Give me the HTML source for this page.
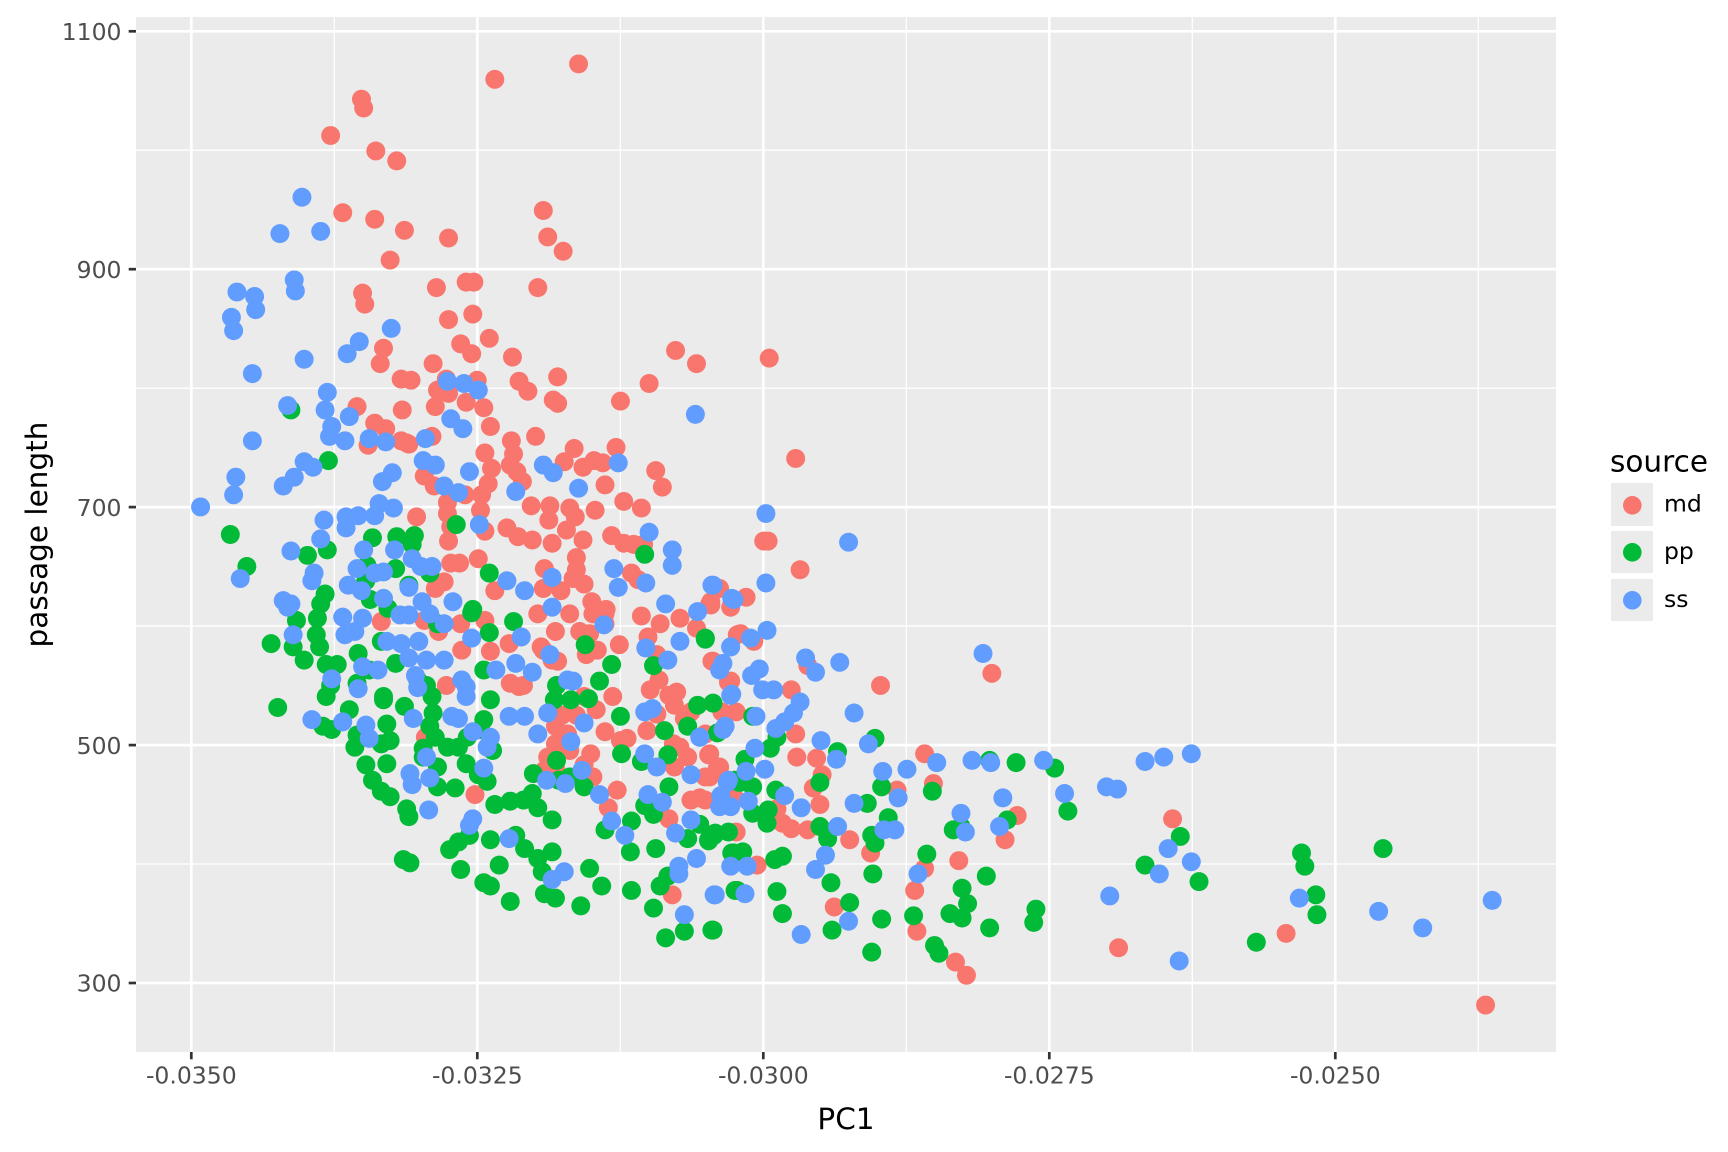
<!DOCTYPE html>
<html><head><meta charset="utf-8"><style>
html,body{margin:0;padding:0;background:#fff;}
svg{display:block;}
text{font-family:"DejaVu Sans","Liberation Sans",sans-serif;}
</style></head><body>
<svg width="1728" height="1152" viewBox="0 0 1728 1152" xmlns="http://www.w3.org/2000/svg">
<rect width="1728" height="1152" fill="#fff"/>
<defs><clipPath id="cp"><rect x="136" y="17" width="1420" height="1035"/></clipPath></defs>
<rect x="136" y="17" width="1420" height="1035" fill="#EBEBEB"/>
<g stroke="#fff" stroke-width="1.35">
<line x1="136" x2="1556" y1="864" y2="864"/><line x1="136" x2="1556" y1="626.1" y2="626.1"/><line x1="136" x2="1556" y1="388.2" y2="388.2"/><line x1="136" x2="1556" y1="150.2" y2="150.2"/>
<line y1="17" y2="1052" x1="334.3" x2="334.3"/><line y1="17" y2="1052" x1="620.3" x2="620.3"/><line y1="17" y2="1052" x1="906.3" x2="906.3"/><line y1="17" y2="1052" x1="1192.3" x2="1192.3"/><line y1="17" y2="1052" x1="1478.3" x2="1478.3"/>
</g>
<g stroke="#fff" stroke-width="2.7">
<line x1="136" x2="1556" y1="983" y2="983"/><line x1="136" x2="1556" y1="745.1" y2="745.1"/><line x1="136" x2="1556" y1="507.1" y2="507.1"/><line x1="136" x2="1556" y1="269.2" y2="269.2"/><line x1="136" x2="1556" y1="31.3" y2="31.3"/>
<line y1="17" y2="1052" x1="191.3" x2="191.3"/><line y1="17" y2="1052" x1="477.3" x2="477.3"/><line y1="17" y2="1052" x1="763.3" x2="763.3"/><line y1="17" y2="1052" x1="1049.3" x2="1049.3"/><line y1="17" y2="1052" x1="1335.3" x2="1335.3"/>
</g>
<g clip-path="url(#cp)"><g transform="scale(1.10204)">
<g fill="#F8766D">
<circle cx="525" cy="58" r="8.6"/><circle cx="449" cy="72" r="8.6"/><circle cx="328" cy="90" r="8.6"/><circle cx="330" cy="98" r="8.6"/><circle cx="300" cy="123" r="8.6"/><circle cx="341" cy="137" r="8.6"/><circle cx="360" cy="146" r="8.6"/><circle cx="311" cy="193" r="8.6"/><circle cx="340" cy="199" r="8.6"/><circle cx="493" cy="191" r="8.6"/><circle cx="698" cy="325" r="8.6"/><circle cx="722" cy="416" r="8.6"/><circle cx="693" cy="491" r="8.6"/><circle cx="697" cy="491" r="8.6"/><circle cx="867" cy="873" r="8.6"/><circle cx="877" cy="885" r="8.6"/><circle cx="1015" cy="860" r="8.6"/><circle cx="1167" cy="847" r="8.6"/><circle cx="1348" cy="912" r="8.6"/>
<circle cx="367" cy="209" r="8.6"/><circle cx="407" cy="216" r="8.6"/><circle cx="497" cy="215" r="8.6"/><circle cx="511" cy="228" r="8.6"/><circle cx="354" cy="236" r="8.6"/><circle cx="396" cy="261" r="8.6"/><circle cx="423" cy="256" r="8.6"/><circle cx="430" cy="256" r="8.6"/><circle cx="488" cy="261" r="8.6"/><circle cx="329" cy="266" r="8.6"/><circle cx="331" cy="276" r="8.6"/><circle cx="407" cy="290" r="8.6"/><circle cx="429" cy="285" r="8.6"/><circle cx="444" cy="307" r="8.6"/><circle cx="418" cy="312" r="8.6"/><circle cx="428" cy="321" r="8.6"/><circle cx="465" cy="324" r="8.6"/><circle cx="506" cy="342" r="8.6"/><circle cx="613" cy="318" r="8.6"/><circle cx="632" cy="330" r="8.6"/><circle cx="589" cy="348" r="8.6"/><circle cx="563" cy="364" r="8.6"/><circle cx="348" cy="316" r="8.6"/><circle cx="345" cy="330" r="8.6"/><circle cx="393" cy="330" r="8.6"/><circle cx="364" cy="344" r="8.6"/><circle cx="373" cy="345" r="8.6"/><circle cx="405" cy="344" r="8.6"/><circle cx="433" cy="345" r="8.6"/><circle cx="397" cy="354" r="8.6"/><circle cx="407" cy="357" r="8.6"/><circle cx="471" cy="346" r="8.6"/><circle cx="479" cy="355" r="8.6"/><circle cx="502" cy="363" r="8.6"/><circle cx="506" cy="366" r="8.6"/><circle cx="395" cy="369" r="8.6"/><circle cx="423" cy="365" r="8.6"/><circle cx="439" cy="370" r="8.6"/><circle cx="365" cy="372" r="8.6"/><circle cx="324" cy="369" r="8.6"/><circle cx="340" cy="384" r="8.6"/><circle cx="350" cy="389" r="8.6"/><circle cx="445" cy="387" r="8.6"/><circle cx="464" cy="400" r="8.6"/><circle cx="364" cy="400" r="8.6"/><circle cx="371" cy="403" r="8.6"/><circle cx="392" cy="396" r="8.6"/><circle cx="486" cy="396" r="8.6"/><circle cx="334" cy="404" r="8.6"/><circle cx="559" cy="406" r="8.6"/><circle cx="521" cy="407" r="8.6"/><circle cx="440" cy="411" r="8.6"/><circle cx="466" cy="412" r="8.6"/><circle cx="595" cy="427" r="8.6"/><circle cx="601" cy="442" r="8.6"/><circle cx="549" cy="440" r="8.6"/><circle cx="566" cy="455" r="8.6"/><circle cx="582" cy="461" r="8.6"/><circle cx="539" cy="418" r="8.6"/><circle cx="547" cy="420" r="8.6"/><circle cx="529" cy="424" r="8.6"/><circle cx="512" cy="419" r="8.6"/><circle cx="385" cy="432" r="8.6"/><circle cx="394" cy="441" r="8.6"/><circle cx="443" cy="439" r="8.6"/><circle cx="463" cy="422" r="8.6"/><circle cx="469" cy="428" r="8.6"/><circle cx="474" cy="437" r="8.6"/><circle cx="446" cy="425" r="8.6"/><circle cx="437" cy="449" r="8.6"/><circle cx="422" cy="449" r="8.6"/><circle cx="406" cy="456" r="8.6"/><circle cx="406" cy="466" r="8.6"/><circle cx="409" cy="478" r="8.6"/><circle cx="407" cy="491" r="8.6"/><circle cx="436" cy="463" r="8.6"/><circle cx="440" cy="482" r="8.6"/><circle cx="460" cy="479" r="8.6"/><circle cx="482" cy="459" r="8.6"/><circle cx="499" cy="459" r="8.6"/><circle cx="517" cy="461" r="8.6"/><circle cx="522" cy="469" r="8.6"/><circle cx="540" cy="463" r="8.6"/><circle cx="498" cy="472" r="8.6"/><circle cx="470" cy="487" r="8.6"/><circle cx="483" cy="490" r="8.6"/><circle cx="494" cy="516" r="8.6"/><circle cx="501" cy="493" r="8.6"/><circle cx="514" cy="481" r="8.6"/><circle cx="523" cy="517" r="8.6"/><circle cx="529" cy="490" r="8.6"/><circle cx="523" cy="506" r="8.6"/><circle cx="509" cy="536" r="8.6"/><circle cx="520" cy="525" r="8.6"/><circle cx="530" cy="530" r="8.6"/><circle cx="555" cy="486" r="8.6"/><circle cx="566" cy="493" r="8.6"/><circle cx="575" cy="494" r="8.6"/><circle cx="584" cy="494" r="8.6"/><circle cx="573" cy="520" r="8.6"/><circle cx="579" cy="526" r="8.6"/><circle cx="537" cy="546" r="8.6"/><circle cx="550" cy="553" r="8.6"/><circle cx="653" cy="534" r="8.6"/><circle cx="645" cy="546" r="8.6"/><circle cx="378" cy="469" r="8.6"/><circle cx="369" cy="402" r="8.6"/><circle cx="395" cy="534" r="8.6"/><circle cx="403" cy="528" r="8.6"/><circle cx="417" cy="511" r="8.6"/><circle cx="409" cy="511" r="8.6"/><circle cx="434" cy="507" r="8.6"/><circle cx="449" cy="536" r="8.6"/><circle cx="493" cy="534" r="8.6"/>
<circle cx="346" cy="564" r="8.6"/><circle cx="405" cy="622" r="8.6"/><circle cx="386" cy="669" r="8.6"/><circle cx="431" cy="721" r="8.6"/><circle cx="385" cy="563" r="8.6"/><circle cx="418" cy="566" r="8.6"/><circle cx="440" cy="563" r="8.6"/><circle cx="419" cy="590" r="8.6"/><circle cx="445" cy="591" r="8.6"/><circle cx="398" cy="573" r="8.6"/><circle cx="462" cy="584" r="8.6"/><circle cx="463" cy="620" r="8.6"/><circle cx="471" cy="623" r="8.6"/><circle cx="491" cy="587" r="8.6"/><circle cx="501" cy="599" r="8.6"/><circle cx="488" cy="557" r="8.6"/><circle cx="504" cy="573" r="8.6"/><circle cx="517" cy="557" r="8.6"/><circle cx="538" cy="557" r="8.6"/><circle cx="549" cy="557" r="8.6"/><circle cx="549" cy="566" r="8.6"/><circle cx="526" cy="573" r="8.6"/><circle cx="542" cy="590" r="8.6"/><circle cx="532" cy="594" r="8.6"/><circle cx="506" cy="600" r="8.6"/><circle cx="493" cy="590" r="8.6"/><circle cx="562" cy="585" r="8.6"/><circle cx="582" cy="559" r="8.6"/><circle cx="599" cy="566" r="8.6"/><circle cx="617" cy="561" r="8.6"/><circle cx="632" cy="570" r="8.6"/><circle cx="645" cy="549" r="8.6"/><circle cx="646" cy="600" r="8.6"/><circle cx="588" cy="578" r="8.6"/><circle cx="596" cy="594" r="8.6"/><circle cx="598" cy="617" r="8.6"/><circle cx="607" cy="631" r="8.6"/><circle cx="614" cy="628" r="8.6"/><circle cx="590" cy="626" r="8.6"/><circle cx="556" cy="632" r="8.6"/><circle cx="549" cy="664" r="8.6"/><circle cx="541" cy="644" r="8.6"/><circle cx="530" cy="632" r="8.6"/><circle cx="523" cy="649" r="8.6"/><circle cx="510" cy="649" r="8.6"/><circle cx="504" cy="659" r="8.6"/><circle cx="515" cy="666" r="8.6"/><circle cx="536" cy="684" r="8.6"/><circle cx="530" cy="694" r="8.6"/><circle cx="538" cy="705" r="8.6"/><circle cx="504" cy="696" r="8.6"/><circle cx="497" cy="687" r="8.6"/><circle cx="494" cy="699" r="8.6"/><circle cx="560" cy="717" r="8.6"/><circle cx="552" cy="733" r="8.6"/><circle cx="563" cy="672" r="8.6"/><circle cx="587" cy="663" r="8.6"/><circle cx="611" cy="675" r="8.6"/><circle cx="617" cy="678" r="8.6"/><circle cx="612" cy="696" r="8.6"/><circle cx="624" cy="687" r="8.6"/><circle cx="644" cy="684" r="8.6"/><circle cx="653" cy="696" r="8.6"/><circle cx="644" cy="705" r="8.6"/><circle cx="627" cy="726" r="8.6"/><circle cx="640" cy="726" r="8.6"/><circle cx="666" cy="726" r="8.6"/><circle cx="663" cy="618" r="8.6"/><circle cx="669" cy="576" r="8.6"/><circle cx="663" cy="551" r="8.6"/><circle cx="607" cy="743" r="8.6"/><circle cx="610" cy="812" r="8.6"/><circle cx="612" cy="640" r="8.6"/><circle cx="627" cy="646" r="8.6"/><circle cx="596" cy="648" r="8.6"/><circle cx="621" cy="652" r="8.6"/><circle cx="640" cy="666" r="8.6"/><circle cx="569" cy="670" r="8.6"/><circle cx="504" cy="675" r="8.6"/><circle cx="517" cy="681" r="8.6"/><circle cx="475" cy="622" r="8.6"/><circle cx="535" cy="575" r="8.6"/>
<circle cx="726" cy="517" r="8.6"/><circle cx="651" cy="534" r="8.6"/><circle cx="644" cy="548" r="8.6"/><circle cx="677" cy="542" r="8.6"/><circle cx="672" cy="575" r="8.6"/><circle cx="684" cy="582" r="8.6"/><circle cx="647" cy="600" r="8.6"/><circle cx="733" cy="604" r="8.6"/><circle cx="661" cy="619" r="8.6"/><circle cx="718" cy="626" r="8.6"/><circle cx="655" cy="646" r="8.6"/><circle cx="668" cy="646" r="8.6"/><circle cx="722" cy="666" r="8.6"/><circle cx="799" cy="622" r="8.6"/><circle cx="900" cy="611" r="8.6"/><circle cx="839" cy="684" r="8.6"/><circle cx="723" cy="687" r="8.6"/><circle cx="741" cy="688" r="8.6"/><circle cx="643" cy="685" r="8.6"/><circle cx="746" cy="703" r="8.6"/><circle cx="738" cy="715" r="8.6"/><circle cx="744" cy="730" r="8.6"/><circle cx="651" cy="697" r="8.6"/><circle cx="640" cy="705" r="8.6"/><circle cx="635" cy="724" r="8.6"/><circle cx="653" cy="724" r="8.6"/><circle cx="666" cy="723" r="8.6"/><circle cx="847" cy="711" r="8.6"/><circle cx="814" cy="717" r="8.6"/><circle cx="705" cy="734" r="8.6"/><circle cx="710" cy="747" r="8.6"/><circle cx="718" cy="752" r="8.6"/><circle cx="733" cy="753" r="8.6"/><circle cx="668" cy="755" r="8.6"/><circle cx="687" cy="785" r="8.6"/><circle cx="771" cy="762" r="8.6"/><circle cx="790" cy="774" r="8.6"/><circle cx="839" cy="788" r="8.6"/><circle cx="830" cy="808" r="8.6"/><circle cx="870" cy="781" r="8.6"/><circle cx="923" cy="740" r="8.6"/><circle cx="912" cy="762" r="8.6"/><circle cx="1064" cy="743" r="8.6"/><circle cx="757" cy="823" r="8.6"/><circle cx="832" cy="845" r="8.6"/>
</g>
<g fill="#00BA38">
<circle cx="791" cy="864" r="8.6"/><circle cx="848" cy="858" r="8.6"/><circle cx="852" cy="865" r="8.6"/><circle cx="1181" cy="774" r="8.6"/><circle cx="1184" cy="786" r="8.6"/><circle cx="1194" cy="812" r="8.6"/><circle cx="1195" cy="830" r="8.6"/><circle cx="1255" cy="770" r="8.6"/><circle cx="1140" cy="855" r="8.6"/><circle cx="1039" cy="785" r="8.6"/><circle cx="1071" cy="759" r="8.6"/><circle cx="1088" cy="800" r="8.6"/>
<circle cx="264" cy="372" r="8.6"/><circle cx="298" cy="418" r="8.6"/><circle cx="209" cy="485" r="8.6"/><circle cx="224" cy="514" r="8.6"/><circle cx="279" cy="504" r="8.6"/><circle cx="297" cy="499" r="8.6"/><circle cx="295" cy="539" r="8.6"/><circle cx="291" cy="548" r="8.6"/><circle cx="338" cy="488" r="8.6"/><circle cx="360" cy="487" r="8.6"/><circle cx="376" cy="486" r="8.6"/><circle cx="374" cy="494" r="8.6"/><circle cx="414" cy="476" r="8.6"/><circle cx="333" cy="513" r="8.6"/><circle cx="359" cy="516" r="8.6"/><circle cx="332" cy="527" r="8.6"/><circle cx="371" cy="531" r="8.6"/><circle cx="390" cy="520" r="8.6"/><circle cx="429" cy="553" r="8.6"/><circle cx="444" cy="520" r="8.6"/><circle cx="585" cy="503" r="8.6"/><circle cx="336" cy="544" r="8.6"/><circle cx="352" cy="552" r="8.6"/>
<circle cx="246" cy="584" r="8.6"/><circle cx="252" cy="642" r="8.6"/><circle cx="266" cy="587" r="8.6"/><circle cx="276" cy="599" r="8.6"/><circle cx="269" cy="563" r="8.6"/><circle cx="288" cy="561" r="8.6"/><circle cx="287" cy="576" r="8.6"/><circle cx="290" cy="587" r="8.6"/><circle cx="296" cy="603" r="8.6"/><circle cx="306" cy="603" r="8.6"/><circle cx="300" cy="622" r="8.6"/><circle cx="296" cy="632" r="8.6"/><circle cx="293" cy="659" r="8.6"/><circle cx="301" cy="662" r="8.6"/><circle cx="317" cy="644" r="8.6"/><circle cx="324" cy="620" r="8.6"/><circle cx="325" cy="593" r="8.6"/><circle cx="335" cy="608" r="8.6"/><circle cx="324" cy="667" r="8.6"/><circle cx="322" cy="678" r="8.6"/><circle cx="332" cy="694" r="8.6"/><circle cx="338" cy="708" r="8.6"/><circle cx="346" cy="718" r="8.6"/><circle cx="354" cy="723" r="8.6"/><circle cx="369" cy="734" r="8.6"/><circle cx="371" cy="741" r="8.6"/><circle cx="366" cy="780" r="8.6"/><circle cx="372" cy="783" r="8.6"/><circle cx="351" cy="693" r="8.6"/><circle cx="346" cy="675" r="8.6"/><circle cx="354" cy="672" r="8.6"/><circle cx="351" cy="657" r="8.6"/><circle cx="348" cy="635" r="8.6"/><circle cx="348" cy="632" r="8.6"/><circle cx="346" cy="582" r="8.6"/><circle cx="359" cy="602" r="8.6"/><circle cx="367" cy="641" r="8.6"/><circle cx="379" cy="617" r="8.6"/><circle cx="387" cy="622" r="8.6"/><circle cx="392" cy="632" r="8.6"/><circle cx="393" cy="647" r="8.6"/><circle cx="390" cy="659" r="8.6"/><circle cx="395" cy="669" r="8.6"/><circle cx="384" cy="679" r="8.6"/><circle cx="384" cy="687" r="8.6"/><circle cx="397" cy="696" r="8.6"/><circle cx="406" cy="678" r="8.6"/><circle cx="416" cy="678" r="8.6"/><circle cx="423" cy="693" r="8.6"/><circle cx="424" cy="669" r="8.6"/><circle cx="436" cy="662" r="8.6"/><circle cx="397" cy="714" r="8.6"/><circle cx="413" cy="715" r="8.6"/><circle cx="434" cy="703" r="8.6"/><circle cx="442" cy="709" r="8.6"/><circle cx="439" cy="653" r="8.6"/><circle cx="447" cy="681" r="8.6"/><circle cx="445" cy="635" r="8.6"/><circle cx="439" cy="608" r="8.6"/><circle cx="444" cy="574" r="8.6"/><circle cx="428" cy="556" r="8.6"/><circle cx="397" cy="566" r="8.6"/><circle cx="466" cy="564" r="8.6"/><circle cx="449" cy="730" r="8.6"/><circle cx="463" cy="727" r="8.6"/><circle cx="475" cy="726" r="8.6"/><circle cx="483" cy="720" r="8.6"/><circle cx="488" cy="733" r="8.6"/><circle cx="501" cy="744" r="8.6"/><circle cx="484" cy="702" r="8.6"/><circle cx="505" cy="690" r="8.6"/><circle cx="517" cy="705" r="8.6"/><circle cx="530" cy="714" r="8.6"/><circle cx="426" cy="758" r="8.6"/><circle cx="416" cy="764" r="8.6"/><circle cx="408" cy="771" r="8.6"/><circle cx="445" cy="762" r="8.6"/><circle cx="468" cy="758" r="8.6"/><circle cx="476" cy="770" r="8.6"/><circle cx="488" cy="779" r="8.6"/><circle cx="501" cy="773" r="8.6"/><circle cx="492" cy="791" r="8.6"/><circle cx="494" cy="811" r="8.6"/><circle cx="504" cy="815" r="8.6"/><circle cx="453" cy="785" r="8.6"/><circle cx="439" cy="801" r="8.6"/><circle cx="445" cy="804" r="8.6"/><circle cx="463" cy="818" r="8.6"/><circle cx="418" cy="789" r="8.6"/><circle cx="535" cy="788" r="8.6"/><circle cx="546" cy="804" r="8.6"/><circle cx="527" cy="822" r="8.6"/><circle cx="573" cy="808" r="8.6"/><circle cx="593" cy="824" r="8.6"/><circle cx="599" cy="804" r="8.6"/><circle cx="606" cy="795" r="8.6"/><circle cx="604" cy="851" r="8.6"/><circle cx="621" cy="845" r="8.6"/><circle cx="646" cy="844" r="8.6"/><circle cx="667" cy="808" r="8.6"/><circle cx="572" cy="773" r="8.6"/><circle cx="595" cy="770" r="8.6"/><circle cx="624" cy="761" r="8.6"/><circle cx="643" cy="762" r="8.6"/><circle cx="549" cy="753" r="8.6"/><circle cx="573" cy="745" r="8.6"/><circle cx="593" cy="739" r="8.6"/><circle cx="585" cy="731" r="8.6"/><circle cx="607" cy="714" r="8.6"/><circle cx="606" cy="685" r="8.6"/><circle cx="582" cy="691" r="8.6"/><circle cx="564" cy="684" r="8.6"/><circle cx="603" cy="663" r="8.6"/><circle cx="624" cy="659" r="8.6"/><circle cx="633" cy="640" r="8.6"/><circle cx="640" cy="579" r="8.6"/><circle cx="563" cy="650" r="8.6"/><circle cx="555" cy="603" r="8.6"/><circle cx="544" cy="618" r="8.6"/><circle cx="531" cy="585" r="8.6"/><circle cx="593" cy="604" r="8.6"/><circle cx="505" cy="622" r="8.6"/><circle cx="503" cy="635" r="8.6"/><circle cx="518" cy="635" r="8.6"/><circle cx="507" cy="708" r="8.6"/><circle cx="534" cy="634" r="8.6"/><circle cx="664" cy="774" r="8.6"/><circle cx="649" cy="756" r="8.6"/>
<circle cx="640" cy="580" r="8.6"/><circle cx="647" cy="638" r="8.6"/><circle cx="683" cy="650" r="8.6"/><circle cx="651" cy="665" r="8.6"/><circle cx="705" cy="669" r="8.6"/><circle cx="699" cy="679" r="8.6"/><circle cx="676" cy="689" r="8.6"/><circle cx="683" cy="714" r="8.6"/><circle cx="671" cy="710" r="8.6"/><circle cx="704" cy="717" r="8.6"/><circle cx="697" cy="735" r="8.6"/><circle cx="683" cy="738" r="8.6"/><circle cx="696" cy="747" r="8.6"/><circle cx="648" cy="758" r="8.6"/><circle cx="661" cy="755" r="8.6"/><circle cx="666" cy="774" r="8.6"/><circle cx="674" cy="773" r="8.6"/><circle cx="703" cy="780" r="8.6"/><circle cx="710" cy="777" r="8.6"/><circle cx="669" cy="808" r="8.6"/><circle cx="705" cy="809" r="8.6"/><circle cx="710" cy="829" r="8.6"/><circle cx="647" cy="844" r="8.6"/><circle cx="760" cy="682" r="8.6"/><circle cx="744" cy="710" r="8.6"/><circle cx="787" cy="729" r="8.6"/><circle cx="794" cy="670" r="8.6"/><circle cx="800" cy="714" r="8.6"/><circle cx="806" cy="742" r="8.6"/><circle cx="744" cy="750" r="8.6"/><circle cx="751" cy="761" r="8.6"/><circle cx="791" cy="758" r="8.6"/><circle cx="794" cy="765" r="8.6"/><circle cx="846" cy="718" r="8.6"/><circle cx="841" cy="775" r="8.6"/><circle cx="792" cy="793" r="8.6"/><circle cx="754" cy="801" r="8.6"/><circle cx="771" cy="819" r="8.6"/><circle cx="755" cy="844" r="8.6"/><circle cx="800" cy="834" r="8.6"/><circle cx="829" cy="831" r="8.6"/><circle cx="862" cy="829" r="8.6"/><circle cx="873" cy="833" r="8.6"/><circle cx="878" cy="820" r="8.6"/><circle cx="873" cy="806" r="8.6"/><circle cx="895" cy="795" r="8.6"/><circle cx="898" cy="842" r="8.6"/><circle cx="940" cy="825" r="8.6"/><circle cx="938" cy="837" r="8.6"/><circle cx="914" cy="744" r="8.6"/><circle cx="865" cy="753" r="8.6"/><circle cx="872" cy="750" r="8.6"/><circle cx="898" cy="690" r="8.6"/><circle cx="922" cy="692" r="8.6"/><circle cx="957" cy="697" r="8.6"/><circle cx="969" cy="736" r="8.6"/><circle cx="667" cy="708" r="8.6"/><circle cx="635" cy="748" r="8.6"/><circle cx="643" cy="763" r="8.6"/>
</g>
<g fill="#619CFF">
<circle cx="274" cy="179" r="8.6"/><circle cx="695" cy="466" r="8.6"/><circle cx="770" cy="492" r="8.6"/><circle cx="1070" cy="872" r="8.6"/><circle cx="1179" cy="815" r="8.6"/><circle cx="1251" cy="827" r="8.6"/><circle cx="1291" cy="842" r="8.6"/><circle cx="1354" cy="817" r="8.6"/><circle cx="1060" cy="770" r="8.6"/><circle cx="1081" cy="782" r="8.6"/><circle cx="1052" cy="793" r="8.6"/><circle cx="1007" cy="813" r="8.6"/><circle cx="1004" cy="714" r="8.6"/><circle cx="1014" cy="716" r="8.6"/>
<circle cx="254" cy="212" r="8.6"/><circle cx="291" cy="210" r="8.6"/><circle cx="267" cy="254" r="8.6"/><circle cx="268" cy="264" r="8.6"/><circle cx="215" cy="265" r="8.6"/><circle cx="231" cy="269" r="8.6"/><circle cx="232" cy="281" r="8.6"/><circle cx="210" cy="288" r="8.6"/><circle cx="212" cy="300" r="8.6"/><circle cx="355" cy="298" r="8.6"/><circle cx="326" cy="310" r="8.6"/><circle cx="315" cy="321" r="8.6"/><circle cx="276" cy="326" r="8.6"/><circle cx="229" cy="339" r="8.6"/><circle cx="297" cy="356" r="8.6"/><circle cx="295" cy="372" r="8.6"/><circle cx="261" cy="368" r="8.6"/><circle cx="317" cy="378" r="8.6"/><circle cx="301" cy="387" r="8.6"/><circle cx="299" cy="396" r="8.6"/><circle cx="313" cy="400" r="8.6"/><circle cx="229" cy="400" r="8.6"/><circle cx="406" cy="346" r="8.6"/><circle cx="421" cy="348" r="8.6"/><circle cx="434" cy="354" r="8.6"/><circle cx="409" cy="380" r="8.6"/><circle cx="420" cy="389" r="8.6"/><circle cx="276" cy="419" r="8.6"/><circle cx="284" cy="424" r="8.6"/><circle cx="267" cy="433" r="8.6"/><circle cx="257" cy="441" r="8.6"/><circle cx="356" cy="429" r="8.6"/><circle cx="347" cy="437" r="8.6"/><circle cx="335" cy="398" r="8.6"/><circle cx="350" cy="401" r="8.6"/><circle cx="386" cy="398" r="8.6"/><circle cx="384" cy="418" r="8.6"/><circle cx="395" cy="422" r="8.6"/><circle cx="426" cy="428" r="8.6"/><circle cx="403" cy="441" r="8.6"/><circle cx="416" cy="447" r="8.6"/><circle cx="214" cy="433" r="8.6"/><circle cx="212" cy="449" r="8.6"/><circle cx="182" cy="460" r="8.6"/><circle cx="344" cy="457" r="8.6"/><circle cx="357" cy="461" r="8.6"/><circle cx="340" cy="468" r="8.6"/><circle cx="325" cy="468" r="8.6"/><circle cx="314" cy="469" r="8.6"/><circle cx="314" cy="479" r="8.6"/><circle cx="294" cy="472" r="8.6"/><circle cx="291" cy="489" r="8.6"/><circle cx="264" cy="500" r="8.6"/><circle cx="330" cy="499" r="8.6"/><circle cx="358" cy="499" r="8.6"/><circle cx="374" cy="507" r="8.6"/><circle cx="324" cy="516" r="8.6"/><circle cx="285" cy="520" r="8.6"/><circle cx="340" cy="520" r="8.6"/><circle cx="348" cy="519" r="8.6"/><circle cx="382" cy="514" r="8.6"/><circle cx="392" cy="514" r="8.6"/><circle cx="371" cy="533" r="8.6"/><circle cx="316" cy="531" r="8.6"/><circle cx="328" cy="536" r="8.6"/><circle cx="283" cy="527" r="8.6"/><circle cx="218" cy="525" r="8.6"/><circle cx="257" cy="545" r="8.6"/><circle cx="264" cy="548" r="8.6"/><circle cx="348" cy="543" r="8.6"/><circle cx="460" cy="527" r="8.6"/><circle cx="476" cy="536" r="8.6"/><circle cx="501" cy="524" r="8.6"/><circle cx="557" cy="516" r="8.6"/><circle cx="610" cy="499" r="8.6"/><circle cx="610" cy="513" r="8.6"/><circle cx="561" cy="533" r="8.6"/><circle cx="586" cy="529" r="8.6"/><circle cx="646" cy="531" r="8.6"/><circle cx="664" cy="543" r="8.6"/><circle cx="589" cy="483" r="8.6"/><circle cx="631" cy="376" r="8.6"/><circle cx="561" cy="420" r="8.6"/><circle cx="525" cy="443" r="8.6"/><circle cx="493" cy="422" r="8.6"/><circle cx="502" cy="429" r="8.6"/><circle cx="468" cy="446" r="8.6"/><circle cx="435" cy="476" r="8.6"/><circle cx="411" cy="546" r="8.6"/><circle cx="383" cy="546" r="8.6"/>
<circle cx="261" cy="551" r="8.6"/><circle cx="266" cy="576" r="8.6"/><circle cx="311" cy="560" r="8.6"/><circle cx="329" cy="561" r="8.6"/><circle cx="313" cy="576" r="8.6"/><circle cx="322" cy="573" r="8.6"/><circle cx="329" cy="605" r="8.6"/><circle cx="343" cy="608" r="8.6"/><circle cx="301" cy="616" r="8.6"/><circle cx="325" cy="625" r="8.6"/><circle cx="283" cy="653" r="8.6"/><circle cx="311" cy="655" r="8.6"/><circle cx="332" cy="658" r="8.6"/><circle cx="335" cy="670" r="8.6"/><circle cx="363" cy="558" r="8.6"/><circle cx="371" cy="558" r="8.6"/><circle cx="390" cy="557" r="8.6"/><circle cx="403" cy="566" r="8.6"/><circle cx="351" cy="582" r="8.6"/><circle cx="364" cy="584" r="8.6"/><circle cx="380" cy="582" r="8.6"/><circle cx="371" cy="597" r="8.6"/><circle cx="387" cy="599" r="8.6"/><circle cx="403" cy="599" r="8.6"/><circle cx="377" cy="613" r="8.6"/><circle cx="379" cy="624" r="8.6"/><circle cx="419" cy="617" r="8.6"/><circle cx="423" cy="632" r="8.6"/><circle cx="423" cy="623" r="8.6"/><circle cx="375" cy="652" r="8.6"/><circle cx="410" cy="650" r="8.6"/><circle cx="416" cy="652" r="8.6"/><circle cx="429" cy="664" r="8.6"/><circle cx="445" cy="669" r="8.6"/><circle cx="442" cy="678" r="8.6"/><circle cx="387" cy="687" r="8.6"/><circle cx="372" cy="702" r="8.6"/><circle cx="374" cy="712" r="8.6"/><circle cx="390" cy="706" r="8.6"/><circle cx="389" cy="735" r="8.6"/><circle cx="429" cy="743" r="8.6"/><circle cx="426" cy="749" r="8.6"/><circle cx="439" cy="697" r="8.6"/><circle cx="462" cy="761" r="8.6"/><circle cx="501" cy="798" r="8.6"/><circle cx="512" cy="791" r="8.6"/><circle cx="428" cy="579" r="8.6"/><circle cx="450" cy="608" r="8.6"/><circle cx="468" cy="602" r="8.6"/><circle cx="473" cy="578" r="8.6"/><circle cx="483" cy="610" r="8.6"/><circle cx="499" cy="594" r="8.6"/><circle cx="501" cy="551" r="8.6"/><circle cx="548" cy="567" r="8.6"/><circle cx="462" cy="650" r="8.6"/><circle cx="476" cy="650" r="8.6"/><circle cx="497" cy="647" r="8.6"/><circle cx="518" cy="673" r="8.6"/><circle cx="530" cy="656" r="8.6"/><circle cx="488" cy="666" r="8.6"/><circle cx="496" cy="708" r="8.6"/><circle cx="513" cy="711" r="8.6"/><circle cx="528" cy="699" r="8.6"/><circle cx="544" cy="721" r="8.6"/><circle cx="555" cy="745" r="8.6"/><circle cx="567" cy="758" r="8.6"/><circle cx="588" cy="721" r="8.6"/><circle cx="601" cy="728" r="8.6"/><circle cx="585" cy="684" r="8.6"/><circle cx="596" cy="696" r="8.6"/><circle cx="627" cy="703" r="8.6"/><circle cx="635" cy="669" r="8.6"/><circle cx="658" cy="659" r="8.6"/><circle cx="663" cy="631" r="8.6"/><circle cx="653" cy="608" r="8.6"/><circle cx="663" cy="587" r="8.6"/><circle cx="633" cy="555" r="8.6"/><circle cx="617" cy="582" r="8.6"/><circle cx="586" cy="588" r="8.6"/><circle cx="606" cy="599" r="8.6"/><circle cx="616" cy="786" r="8.6"/><circle cx="616" cy="793" r="8.6"/><circle cx="621" cy="830" r="8.6"/><circle cx="648" cy="812" r="8.6"/><circle cx="613" cy="756" r="8.6"/><circle cx="627" cy="744" r="8.6"/><circle cx="632" cy="779" r="8.6"/><circle cx="663" cy="786" r="8.6"/><circle cx="663" cy="732" r="8.6"/><circle cx="654" cy="722" r="8.6"/><circle cx="604" cy="548" r="8.6"/><circle cx="520" cy="618" r="8.6"/><circle cx="515" cy="617" r="8.6"/><circle cx="592" cy="643" r="8.6"/><circle cx="585" cy="646" r="8.6"/><circle cx="661" cy="708" r="8.6"/>
<circle cx="647" cy="531" r="8.6"/><circle cx="666" cy="544" r="8.6"/><circle cx="695" cy="529" r="8.6"/><circle cx="696" cy="572" r="8.6"/><circle cx="681" cy="579" r="8.6"/><circle cx="663" cy="587" r="8.6"/><circle cx="656" cy="602" r="8.6"/><circle cx="682" cy="613" r="8.6"/><circle cx="689" cy="607" r="8.6"/><circle cx="702" cy="626" r="8.6"/><circle cx="692" cy="626" r="8.6"/><circle cx="664" cy="630" r="8.6"/><circle cx="726" cy="637" r="8.6"/><circle cx="720" cy="647" r="8.6"/><circle cx="686" cy="650" r="8.6"/><circle cx="656" cy="662" r="8.6"/><circle cx="712" cy="655" r="8.6"/><circle cx="704" cy="661" r="8.6"/><circle cx="731" cy="597" r="8.6"/><circle cx="740" cy="610" r="8.6"/><circle cx="762" cy="601" r="8.6"/><circle cx="775" cy="647" r="8.6"/><circle cx="745" cy="672" r="8.6"/><circle cx="685" cy="679" r="8.6"/><circle cx="694" cy="698" r="8.6"/><circle cx="677" cy="700" r="8.6"/><circle cx="660" cy="710" r="8.6"/><circle cx="653" cy="732" r="8.6"/><circle cx="679" cy="727" r="8.6"/><circle cx="712" cy="722" r="8.6"/><circle cx="727" cy="733" r="8.6"/><circle cx="759" cy="689" r="8.6"/><circle cx="788" cy="675" r="8.6"/><circle cx="801" cy="700" r="8.6"/><circle cx="823" cy="698" r="8.6"/><circle cx="815" cy="724" r="8.6"/><circle cx="775" cy="729" r="8.6"/><circle cx="760" cy="750" r="8.6"/><circle cx="812" cy="753" r="8.6"/><circle cx="802" cy="753" r="8.6"/><circle cx="749" cy="776" r="8.6"/><circle cx="740" cy="789" r="8.6"/><circle cx="678" cy="786" r="8.6"/><circle cx="649" cy="812" r="8.6"/><circle cx="676" cy="811" r="8.6"/><circle cx="727" cy="848" r="8.6"/><circle cx="770" cy="836" r="8.6"/><circle cx="833" cy="793" r="8.6"/><circle cx="850" cy="692" r="8.6"/><circle cx="882" cy="690" r="8.6"/><circle cx="899" cy="692" r="8.6"/><circle cx="947" cy="690" r="8.6"/><circle cx="892" cy="593" r="8.6"/><circle cx="910" cy="724" r="8.6"/><circle cx="872" cy="738" r="8.6"/><circle cx="876" cy="755" r="8.6"/><circle cx="907" cy="750" r="8.6"/><circle cx="966" cy="720" r="8.6"/><circle cx="1039" cy="691" r="8.6"/><circle cx="1056" cy="687" r="8.6"/><circle cx="1081" cy="684" r="8.6"/><circle cx="635" cy="669" r="8.6"/>
</g>
</g></g>
<g stroke="#333333" stroke-width="2.7">
<line x1="128.7" x2="136" y1="983" y2="983"/><line x1="128.7" x2="136" y1="745.1" y2="745.1"/><line x1="128.7" x2="136" y1="507.1" y2="507.1"/><line x1="128.7" x2="136" y1="269.2" y2="269.2"/><line x1="128.7" x2="136" y1="31.3" y2="31.3"/>
<line y1="1052" y2="1059.3" x1="191.3" x2="191.3"/><line y1="1052" y2="1059.3" x1="477.3" x2="477.3"/><line y1="1052" y2="1059.3" x1="763.3" x2="763.3"/><line y1="1052" y2="1059.3" x1="1049.3" x2="1049.3"/><line y1="1052" y2="1059.3" x1="1335.3" x2="1335.3"/>
</g>
<g font-size="23.5" fill="#4D4D4D" text-anchor="end">
<text x="121.5" y="991.7">300</text><text x="121.5" y="753.8">500</text><text x="121.5" y="515.8">700</text><text x="121.5" y="277.9">900</text><text x="121.5" y="40">1100</text>
</g>
<g font-size="23.5" fill="#4D4D4D" text-anchor="middle">
<text x="191.3" y="1083.3">-0.0350</text><text x="477.3" y="1083.3">-0.0325</text><text x="763.3" y="1083.3">-0.0300</text><text x="1049.3" y="1083.3">-0.0275</text><text x="1335.3" y="1083.3">-0.0250</text>
</g>
<text x="846" y="1129" font-size="29.5" fill="#000" text-anchor="middle">PC1</text>
<text transform="translate(47,534.5) rotate(-90)" font-size="29.5" fill="#000" text-anchor="middle">passage length</text>
<text x="1610" y="471.7" font-size="29.5" fill="#000">source</text>
<rect x="1611" y="483" width="42" height="43" fill="#EBEBEB"/>
<rect x="1611" y="531" width="42" height="42" fill="#EBEBEB"/>
<rect x="1611" y="579" width="42" height="42" fill="#EBEBEB"/>
<circle cx="1632.3" cy="505.3" r="9.3" fill="#F8766D"/>
<circle cx="1632.3" cy="552.3" r="9.3" fill="#00BA38"/>
<circle cx="1632.3" cy="600.3" r="9.3" fill="#619CFF"/>
<g font-size="23.5" fill="#000">
<text x="1664" y="511.7">md</text><text x="1664" y="558.8">pp</text><text x="1664" y="606.8">ss</text>
</g>
</svg>
</body></html>
